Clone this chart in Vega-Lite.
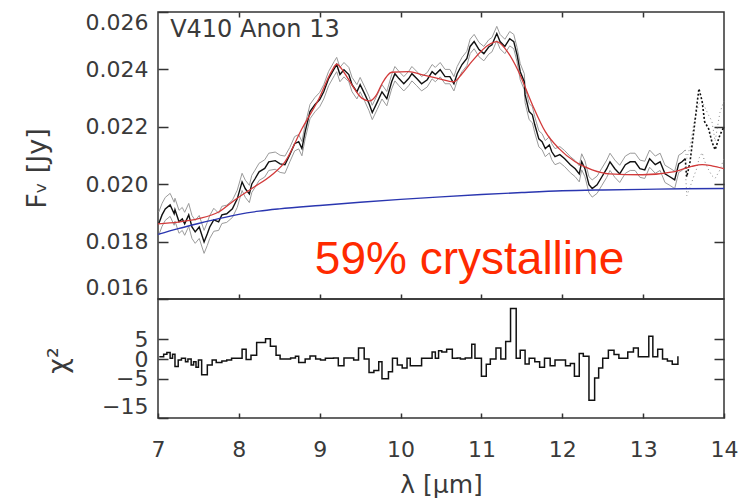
{
  "$schema": "https://vega.github.io/schema/vega-lite/v6.json",
  "padding": {"left": 22, "top": 10, "right": 0, "bottom": 0},
  "spacing": 0,
  "bounds": "flush",
  "background": "white",
  "config": {
    "view": {"stroke": "#333", "strokeWidth": 1.5},
    "axis": {"labelFont": "DejaVu Sans", "labelFontSize": 22, "labelColor": "#3a3a3a", "titleFont": "DejaVu Sans", "titleFontSize": 22, "titleFontWeight": "normal", "titleColor": "#3a3a3a", "tickColor": "#333", "tickWidth": 1.5, "domain": false, "grid": false, "labelOverlap": false}
  },
  "datasets": {
    "spec": [
      {"w":7.01,"f":0.01863,"hi":0.01903,"lo":0.01823},{"w":7.05,"f":0.01893,"hi":0.01933,"lo":0.01853},{"w":7.09,"f":0.01914,"hi":0.01954,"lo":0.01874},{"w":7.15,"f":0.01928,"hi":0.01968,"lo":0.01888},{"w":7.2,"f":0.01897,"hi":0.01937,"lo":0.01857},{"w":7.21,"f":0.01911,"hi":0.01951,"lo":0.01871},{"w":7.26,"f":0.01869,"hi":0.01909,"lo":0.01829},{"w":7.3,"f":0.01879,"hi":0.01919,"lo":0.01839},{"w":7.33,"f":0.01862,"hi":0.01902,"lo":0.01822},{"w":7.38,"f":0.01893,"hi":0.01933,"lo":0.01853},{"w":7.42,"f":0.01851,"hi":0.01891,"lo":0.01811},{"w":7.46,"f":0.01834,"hi":0.01874,"lo":0.01794},{"w":7.51,"f":0.01851,"hi":0.01891,"lo":0.01811},{"w":7.57,"f":0.01799,"hi":0.01839,"lo":0.01759},{"w":7.61,"f":0.01827,"hi":0.01867,"lo":0.01787},{"w":7.64,"f":0.01851,"hi":0.01891,"lo":0.01811},{"w":7.69,"f":0.01876,"hi":0.01916,"lo":0.01836},
      {"w":7.75,"f":0.01869,"hi":0.01899,"lo":0.01839},{"w":7.79,"f":0.01893,"hi":0.01923,"lo":0.01863},{"w":7.85,"f":0.01897,"hi":0.01927,"lo":0.01867},{"w":7.92,"f":0.01914,"hi":0.01944,"lo":0.01884},{"w":7.98,"f":0.01949,"hi":0.01979,"lo":0.01919},{"w":8.04,"f":0.02008,"hi":0.02038,"lo":0.01978},{"w":8.08,"f":0.01984,"hi":0.02014,"lo":0.01954},{"w":8.13,"f":0.01966,"hi":0.01996,"lo":0.01936},{"w":8.16,"f":0.02001,"hi":0.02031,"lo":0.01971},{"w":8.2,"f":0.02019,"hi":0.02049,"lo":0.01989},{"w":8.25,"f":0.02043,"hi":0.02073,"lo":0.02013},{"w":8.32,"f":0.02055,"hi":0.02085,"lo":0.02025},{"w":8.37,"f":0.02078,"hi":0.02108,"lo":0.02048},{"w":8.45,"f":0.02082,"hi":0.02112,"lo":0.02052},{"w":8.51,"f":0.02071,"hi":0.02101,"lo":0.02041},{"w":8.57,"f":0.02068,"hi":0.02098,"lo":0.02038},
      {"w":8.63,"f":0.02103,"hi":0.02128,"lo":0.02078},{"w":8.69,"f":0.02141,"hi":0.02166,"lo":0.02116},{"w":8.74,"f":0.02148,"hi":0.02173,"lo":0.02123},{"w":8.78,"f":0.02124,"hi":0.02149,"lo":0.02099},{"w":8.82,"f":0.02183,"hi":0.02208,"lo":0.02158},{"w":8.88,"f":0.02253,"hi":0.02278,"lo":0.02228},{"w":8.94,"f":0.02277,"hi":0.02302,"lo":0.02252},{"w":9.0,"f":0.02295,"hi":0.0232,"lo":0.0227},{"w":9.05,"f":0.02322,"hi":0.02347,"lo":0.02297},{"w":9.11,"f":0.02368,"hi":0.02393,"lo":0.02343},{"w":9.18,"f":0.02403,"hi":0.02428,"lo":0.02378},{"w":9.21,"f":0.02417,"hi":0.02442,"lo":0.02392},{"w":9.25,"f":0.02382,"hi":0.02407,"lo":0.02357},{"w":9.3,"f":0.02399,"hi":0.02424,"lo":0.02374},{"w":9.36,"f":0.02382,"hi":0.02407,"lo":0.02357},{"w":9.4,"f":0.02347,"hi":0.02372,"lo":0.02322},{"w":9.46,"f":0.02322,"hi":0.02347,"lo":0.02297},{"w":9.5,"f":0.02347,"hi":0.02372,"lo":0.02322},{"w":9.56,"f":0.02312,"hi":0.02337,"lo":0.02287},{"w":9.61,"f":0.02281,"hi":0.02306,"lo":0.02256},{"w":9.65,"f":0.0225,"hi":0.02275,"lo":0.02225},{"w":9.71,"f":0.02285,"hi":0.0231,"lo":0.0226},{"w":9.77,"f":0.02322,"hi":0.02347,"lo":0.02297},{"w":9.83,"f":0.02298,"hi":0.02323,"lo":0.02273},{"w":9.89,"f":0.02357,"hi":0.02382,"lo":0.02332},{"w":9.93,"f":0.02385,"hi":0.0241,"lo":0.0236},{"w":9.98,"f":0.02368,"hi":0.02393,"lo":0.02343},{"w":10.04,"f":0.0235,"hi":0.02375,"lo":0.02325},{"w":10.1,"f":0.02368,"hi":0.02393,"lo":0.02343},{"w":10.14,"f":0.02385,"hi":0.0241,"lo":0.0236},{"w":10.2,"f":0.02368,"hi":0.02393,"lo":0.02343},{"w":10.26,"f":0.0235,"hi":0.02375,"lo":0.02325},{"w":10.33,"f":0.02364,"hi":0.02389,"lo":0.02339},{"w":10.39,"f":0.02392,"hi":0.02417,"lo":0.02367},{"w":10.43,"f":0.02382,"hi":0.02407,"lo":0.02357},{"w":10.49,"f":0.02399,"hi":0.02424,"lo":0.02374},{"w":10.55,"f":0.02375,"hi":0.024,"lo":0.0235},{"w":10.61,"f":0.02375,"hi":0.024,"lo":0.0235},{"w":10.66,"f":0.0235,"hi":0.02375,"lo":0.02325},{"w":10.7,"f":0.02385,"hi":0.0241,"lo":0.0236},{"w":10.76,"f":0.02417,"hi":0.02442,"lo":0.02392},{"w":10.82,"f":0.02438,"hi":0.02463,"lo":0.02413},{"w":10.86,"f":0.0248,"hi":0.02505,"lo":0.02455},{"w":10.91,"f":0.02497,"hi":0.02522,"lo":0.02472},{"w":10.97,"f":0.02469,"hi":0.02494,"lo":0.02444},{"w":11.03,"f":0.02455,"hi":0.0248,"lo":0.0243},{"w":11.09,"f":0.02478,"hi":0.02503,"lo":0.02453},{"w":11.13,"f":0.02486,"hi":0.02511,"lo":0.02461},{"w":11.19,"f":0.02525,"hi":0.0255,"lo":0.025},{"w":11.23,"f":0.02497,"hi":0.02522,"lo":0.02472},{"w":11.29,"f":0.0248,"hi":0.02505,"lo":0.02455},{"w":11.35,"f":0.02507,"hi":0.02532,"lo":0.02482},{"w":11.4,"f":0.02497,"hi":0.02522,"lo":0.02472},{"w":11.44,"f":0.02452,"hi":0.02477,"lo":0.02427},
      {"w":11.48,"f":0.02392,"hi":0.0242,"lo":0.02364},{"w":11.53,"f":0.02357,"hi":0.02385,"lo":0.02329},{"w":11.54,"f":0.02312,"hi":0.0234,"lo":0.02284},{"w":11.59,"f":0.02253,"hi":0.02281,"lo":0.02225},{"w":11.63,"f":0.02242,"hi":0.0227,"lo":0.02214},{"w":11.66,"f":0.02207,"hi":0.02235,"lo":0.02179},{"w":11.71,"f":0.02158,"hi":0.02186,"lo":0.0213},{"w":11.75,"f":0.02148,"hi":0.02176,"lo":0.0212},{"w":11.79,"f":0.02124,"hi":0.02152,"lo":0.02096},{"w":11.84,"f":0.02137,"hi":0.02165,"lo":0.02109},{"w":11.87,"f":0.02113,"hi":0.02141,"lo":0.02085},{"w":11.91,"f":0.02096,"hi":0.02124,"lo":0.02068},{"w":11.97,"f":0.02103,"hi":0.02131,"lo":0.02075},{"w":12.03,"f":0.02089,"hi":0.02117,"lo":0.02061},{"w":12.1,"f":0.02068,"hi":0.02096,"lo":0.0204},{"w":12.16,"f":0.02054,"hi":0.02082,"lo":0.02026},{"w":12.21,"f":0.02036,"hi":0.02064,"lo":0.02008},{"w":12.24,"f":0.02078,"hi":0.02106,"lo":0.0205},{"w":12.28,"f":0.02054,"hi":0.02082,"lo":0.02026},{"w":12.33,"f":0.01998,"hi":0.02026,"lo":0.0197},
      {"w":12.37,"f":0.01985,"hi":0.02015,"lo":0.01955},{"w":12.43,"f":0.01998,"hi":0.02028,"lo":0.01968},{"w":12.49,"f":0.02026,"hi":0.02056,"lo":0.01996},{"w":12.55,"f":0.02054,"hi":0.02084,"lo":0.02024},{"w":12.59,"f":0.02078,"hi":0.02108,"lo":0.02048},{"w":12.65,"f":0.02054,"hi":0.02084,"lo":0.02024},{"w":12.71,"f":0.02036,"hi":0.02066,"lo":0.02006},{"w":12.78,"f":0.02068,"hi":0.02098,"lo":0.02038},{"w":12.84,"f":0.02078,"hi":0.02108,"lo":0.02048},{"w":12.9,"f":0.02078,"hi":0.02108,"lo":0.02048},{"w":12.96,"f":0.02054,"hi":0.02084,"lo":0.02024},{"w":13.02,"f":0.0205,"hi":0.0208,"lo":0.0202},{"w":13.08,"f":0.02089,"hi":0.02119,"lo":0.02059},{"w":13.15,"f":0.02068,"hi":0.02098,"lo":0.02038},{"w":13.21,"f":0.02078,"hi":0.02108,"lo":0.02048},{"w":13.27,"f":0.02036,"hi":0.02066,"lo":0.02006},{"w":13.33,"f":0.02026,"hi":0.02056,"lo":0.01996},{"w":13.39,"f":0.02015,"hi":0.02045,"lo":0.01985},{"w":13.44,"f":0.02071,"hi":0.02101,"lo":0.02041},{"w":13.48,"f":0.02078,"hi":0.02108,"lo":0.02048},{"w":13.52,"f":0.02089,"hi":0.02119,"lo":0.02059}
    ],
    "dots": [
      {"w":13.52,"f":0.02089,"hi":0.02119,"lo":0.02059},{"w":13.54,"f":0.02026,"hi":0.0209,"lo":0.0196},{"w":13.58,"f":0.02078,"hi":0.0213,"lo":0.0199},{"w":13.63,"f":0.02193,"hi":0.0222,"lo":0.0203},{"w":13.67,"f":0.02288,"hi":0.0226,"lo":0.0206},{"w":13.69,"f":0.02333,"hi":0.0228,"lo":0.0209},{"w":13.73,"f":0.02288,"hi":0.0229,"lo":0.0211},{"w":13.76,"f":0.02218,"hi":0.0227,"lo":0.0208},{"w":13.81,"f":0.02193,"hi":0.0224,"lo":0.0205},{"w":13.85,"f":0.02148,"hi":0.0222,"lo":0.0203},{"w":13.89,"f":0.0212,"hi":0.0215,"lo":0.0202},{"w":13.95,"f":0.02172,"hi":0.0225,"lo":0.0205},{"w":14.0,"f":0.022,"hi":0.0229,"lo":0.0209}
    ],
    "model": [
      {"w":7.0,"f":0.01862},{"w":7.25,"f":0.01868},{"w":7.5,"f":0.0188},{"w":7.75,"f":0.01903},{"w":7.95,"f":0.01945},{"w":8.16,"f":0.01985},{"w":8.41,"f":0.02033},{"w":8.57,"f":0.02078},{"w":8.78,"f":0.02193},{"w":8.99,"f":0.02298},{"w":9.15,"f":0.02395},{"w":9.21,"f":0.02418},{"w":9.3,"f":0.0239},{"w":9.4,"f":0.02345},{"w":9.52,"f":0.023},{"w":9.62,"f":0.0229},{"w":9.7,"f":0.0231},{"w":9.77,"f":0.0235},{"w":9.89,"f":0.0239},{"w":10.1,"f":0.02392},{"w":10.26,"f":0.02382},{"w":10.47,"f":0.02368},{"w":10.66,"f":0.02357},{"w":10.76,"f":0.02385},{"w":10.88,"f":0.02427},{"w":11.09,"f":0.02486},{"w":11.19,"f":0.02497},{"w":11.3,"f":0.0247},{"w":11.46,"f":0.02392},{"w":11.63,"f":0.02277},{"w":11.79,"f":0.02183},{"w":11.96,"f":0.02124},{"w":12.16,"f":0.02078},{"w":12.37,"f":0.0205},{"w":12.58,"f":0.02036},{"w":12.99,"f":0.02033},{"w":13.39,"f":0.02044},{"w":13.6,"f":0.02062},{"w":13.73,"f":0.02068},{"w":13.85,"f":0.02064},{"w":14.0,"f":0.02054}
    ],
    "cont": [
      {"w":7.0,"f":0.01825},{"w":7.25,"f":0.01845},{"w":7.5,"f":0.01863},{"w":7.75,"f":0.0188},{"w":8.0,"f":0.01895},{"w":8.25,"f":0.01906},{"w":8.5,"f":0.01914},{"w":9.0,"f":0.01926},{"w":9.5,"f":0.01937},{"w":10.0,"f":0.01947},{"w":10.5,"f":0.01956},{"w":11.0,"f":0.01964},{"w":11.5,"f":0.01971},{"w":12.0,"f":0.01977},{"w":12.5,"f":0.0198},{"w":13.0,"f":0.01982},{"w":13.5,"f":0.01984},{"w":14.0,"f":0.01985}
    ],
    "chi": [
      {"w":7.016,"c":0.6},{"w":7.07,"c":1.25},{"w":7.11,"c":1.7},{"w":7.15,"c":0.2},{"w":7.18,"c":1.25},{"w":7.21,"c":-1.9},{"w":7.25,"c":-0.25},{"w":7.29,"c":0.2},{"w":7.34,"c":-0.7},{"w":7.37,"c":0},{"w":7.41,"c":-1.5},{"w":7.44,"c":-0.7},{"w":7.47,"c":-2.1},{"w":7.5,"c":-0.25},{"w":7.54,"c":-4},{"w":7.61,"c":-1.5},{"w":7.67,"c":-0.25},{"w":7.72,"c":-0.9},{"w":7.79,"c":-0.5},{"w":7.85,"c":-0.25},{"w":7.91,"c":0.2},{"w":8.04,"c":2.5},{"w":8.09,"c":-0.1},{"w":8.15,"c":1.0},{"w":8.22,"c":4.2},{"w":8.33,"c":5.2},{"w":8.39,"c":3.25},{"w":8.46,"c":1.0},{"w":8.51,"c":0},{"w":8.64,"c":0.3},{"w":8.7,"c":0.75},{"w":8.74,"c":-0.9},{"w":8.82,"c":0},{"w":8.88,"c":0.8},{"w":8.95,"c":0},{"w":9.01,"c":-0.25},{"w":9.07,"c":0.2},{"w":9.17,"c":0.3},{"w":9.23,"c":-1.7},{"w":9.3,"c":0.3},{"w":9.42,"c":-0.25},{"w":9.48,"c":2.8},{"w":9.55,"c":0},{"w":9.61,"c":-3.4},{"w":9.67,"c":-2.9},{"w":9.73,"c":-0.7},{"w":9.77,"c":-5},{"w":9.85,"c":-3.2},{"w":9.9,"c":0.2},{"w":9.96,"c":-1.5},{"w":10.02,"c":-2.3},{"w":10.08,"c":0.2},{"w":10.12,"c":-1.7},{"w":10.26,"c":0.2},{"w":10.39,"c":1.8},{"w":10.43,"c":0.2},{"w":10.47,"c":2.1},{"w":10.51,"c":1.8},{"w":10.57,"c":2.5},{"w":10.64,"c":0.2},{"w":10.7,"c":0.3},{"w":10.74,"c":0},{"w":10.8,"c":0.3},{"w":10.88,"c":3.75},{"w":10.92,"c":0.2},{"w":11.0,"c":-4.4},{"w":11.06,"c":-1.3},{"w":11.11,"c":0},{"w":11.18,"c":2.8},{"w":11.24,"c":0},{"w":11.3,"c":4.5},{"w":11.36,"c":12.9},{"w":11.43,"c":0.2},{"w":11.48,"c":2.25},{"w":11.54,"c":-1.25},{"w":11.59,"c":0.2},{"w":11.66,"c":-0.7},{"w":11.72,"c":-2.1},{"w":11.78,"c":0.2},{"w":11.85,"c":-1.7},{"w":11.91,"c":-0.25},{"w":12.04,"c":-1.7},{"w":12.1,"c":-1.1},{"w":12.15,"c":-4.4},{"w":12.21,"c":1.4},{"w":12.26,"c":0.75},{"w":12.33,"c":-10.5},{"w":12.4,"c":-4.8},{"w":12.45,"c":-2.3},{"w":12.5,"c":0.2},{"w":12.57,"c":2.25},{"w":12.64,"c":1.2},{"w":12.7,"c":0.2},{"w":12.81,"c":1.8},{"w":12.88,"c":2.8},{"w":12.94,"c":0.6},{"w":13.07,"c":5.8},{"w":13.12,"c":0.6},{"w":13.18,"c":2.5},{"w":13.24,"c":0},{"w":13.3,"c":-0.5},{"w":13.36,"c":-1.3},{"w":13.43,"c":0.75}
    ],
    "notes": [
      {"w":7.15,"f":0.02514,"label":"V410 Anon 13","kind":"name"},
      {"w":8.94,"f":0.01687,"label":"59% crystalline","kind":"frac"}
    ]
  },
  "vconcat": [
    {
      "width": 566, "height": 287,
      "layer": [
        {"data": {"name": "spec"}, "mark": {"type": "line", "color": "#9a9a9a", "strokeWidth": 1}, "encoding": {
          "x": {"field": "w", "type": "quantitative", "scale": {"domain": [7, 14], "nice": false, "zero": false}, "axis": {"orient": "bottom", "labels": false, "tickSize": -5, "values": [8, 9, 10, 11, 12, 13], "title": null}},
          "y": {"field": "hi", "type": "quantitative", "scale": {"domain": [0.016, 0.026], "nice": false, "zero": false}, "axis": {"orient": "left", "values": [0.016, 0.018, 0.02, 0.022, 0.024, 0.026], "format": ".3f", "labelFlush": true, "tickSize": -10, "labelPadding": 20, "title": "F\u1d65 [Jy]", "titleFontSize": 27, "titleX": -121, "titleY": 156, "titleAngle": -90, "titleAlign": "center", "titleBaseline": "middle"}}}},
        {"data": {"name": "spec"}, "mark": {"type": "line", "color": "#9a9a9a", "strokeWidth": 1}, "encoding": {
          "x": {"field": "w", "type": "quantitative", "axis": {"orient": "top", "labels": false, "tickSize": -5, "values": [8, 9, 10, 11, 12, 13], "title": null}},
          "y": {"field": "lo", "type": "quantitative", "axis": {"orient": "right", "labels": false, "tickSize": -10, "values": [0.018, 0.02, 0.022, 0.024], "title": null}}}},
        {"data": {"name": "dots"}, "mark": {"type": "line", "color": "#888", "strokeWidth": 1, "strokeDash": [1, 3]}, "encoding": {
          "x": {"field": "w", "type": "quantitative", "axis": null},
          "y": {"field": "hi", "type": "quantitative", "axis": null}}},
        {"data": {"name": "dots"}, "mark": {"type": "line", "color": "#888", "strokeWidth": 1, "strokeDash": [1, 3]}, "encoding": {
          "x": {"field": "w", "type": "quantitative", "axis": null},
          "y": {"field": "lo", "type": "quantitative", "axis": null}}},
        {"data": {"name": "dots"}, "mark": {"type": "line", "color": "#111", "strokeWidth": 1.6, "strokeDash": [2, 2]}, "encoding": {
          "x": {"field": "w", "type": "quantitative", "axis": null},
          "y": {"field": "f", "type": "quantitative", "axis": null}}},
        {"data": {"name": "spec"}, "mark": {"type": "line", "color": "#111", "strokeWidth": 1.4}, "encoding": {
          "x": {"field": "w", "type": "quantitative", "axis": null},
          "y": {"field": "f", "type": "quantitative", "axis": null}}},
        {"data": {"name": "model"}, "mark": {"type": "line", "color": "#d23a3a", "strokeWidth": 1.3, "interpolate": "monotone"}, "encoding": {
          "x": {"field": "w", "type": "quantitative", "axis": null},
          "y": {"field": "f", "type": "quantitative", "axis": null}}},
        {"data": {"name": "cont"}, "mark": {"type": "line", "color": "#2a36b0", "strokeWidth": 1.4, "interpolate": "monotone"}, "encoding": {
          "x": {"field": "w", "type": "quantitative", "axis": null},
          "y": {"field": "f", "type": "quantitative", "axis": null}}},
        {"data": {"name": "notes"}, "transform": [{"filter": "datum.kind === 'name'"}], "mark": {"type": "text", "align": "left", "baseline": "alphabetic", "font": "DejaVu Sans", "fontSize": 24, "color": "#3a3a3a"}, "encoding": {
          "x": {"field": "w", "type": "quantitative", "axis": null},
          "y": {"field": "f", "type": "quantitative", "axis": null},
          "text": {"field": "label"}}},
        {"data": {"name": "notes"}, "transform": [{"filter": "datum.kind === 'frac'"}], "mark": {"type": "text", "align": "left", "baseline": "alphabetic", "font": "Liberation Sans", "fontSize": 46, "color": "#ff2a00"}, "encoding": {
          "x": {"field": "w", "type": "quantitative", "axis": null},
          "y": {"field": "f", "type": "quantitative", "axis": null},
          "text": {"field": "label"}}}
      ],
      "resolve": {"axis": {"x": "independent", "y": "independent"}}
    },
    {
      "width": 566, "height": 119,
      "layer": [
        {"data": {"name": "chi"}, "mark": {"type": "line", "interpolate": "step-after", "color": "#111", "strokeWidth": 1.5}, "encoding": {
          "x": {"field": "w", "type": "quantitative", "scale": {"domain": [7, 14], "nice": false, "zero": false}, "axis": {"orient": "bottom", "values": [7, 8, 9, 10, 11, 12, 13, 14], "labelFlush": false, "tickSize": -5, "labelPadding": 26, "title": "\u03bb [\u03bcm]", "titleX": 283, "titleY": 66, "titleBaseline": "middle", "titleFontSize": 25}},
          "y": {"field": "c", "type": "quantitative", "scale": {"domain": [-15, 15.3], "nice": false, "zero": false}, "axis": {"orient": "left", "values": [5, 0, -5, -15], "labelFlush": true, "tickSize": -10, "labelPadding": 20, "title": "\u03c7\u00b2", "titleX": -100, "titleY": 61, "titleAngle": -90, "titleAlign": "center", "titleBaseline": "middle", "titleFontSize": 27}}}},
        {"data": {"name": "chi"}, "mark": {"type": "line", "opacity": 0}, "encoding": {
          "x": {"field": "w", "type": "quantitative", "axis": {"orient": "top", "ticks": false, "labels": false, "title": null}},
          "y": {"field": "c", "type": "quantitative", "axis": {"orient": "right", "labels": false, "tickSize": -10, "values": [5, 0, -5], "title": null}}}}
      ],
      "resolve": {"axis": {"x": "independent", "y": "independent"}}
    }
  ]
}
